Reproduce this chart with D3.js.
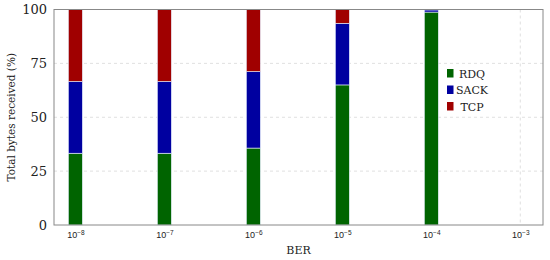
<!DOCTYPE html>
<html>
<head>
  <meta charset="UTF-8">
  <title>Total bytes received</title>
  <style>
    body { margin: 0; background: #fff; }
    svg { display: block; font-family: "DejaVu Serif", "Liberation Serif", serif; }
    .grid line { stroke: #d8d8d8; stroke-dasharray: 3,3; stroke-width: 0.8px; }
  </style>
</head>
<body>
  <script src="https://d3js.org/d3.v7.min.js"></script>
  <script>
    // BER exponents (10^e)
    const berExp = [-8, -7, -6, -5, -4, -3];
    const seriesNames = ["RDQ", "SACK", "TCP"];
    const rdq  = [33.3, 33.3, 35.7, 65.0, 98.8, 0];
    const sack = [33.3, 33.3, 35.5, 28.6, 1.0, 0];
    const tcp  = [33.4, 33.4, 28.8, 6.4, 0.2, 0];
    const yTicks = [0, 25, 50, 75, 100];
    const colors = ["#006400", "#0000a0", "#a00000"];

    const width = 550, height = 260;
    const margin = {top: 9.5, right: 7, bottom: 35, left: 54};
    const svg = d3.select("body").append("svg").attr("width", width).attr("height", height);

    const x = d3.scaleLinear().domain([-8.24, -2.745]).range([margin.left, width - margin.right]);
    const y = d3.scaleLinear().domain([0, 100]).range([height - margin.bottom, margin.top]);
    const barW = 14;

    // grid
    const grid = svg.append("g").attr("class", "grid");
    grid.selectAll("line.h").data(yTicks.filter(d => d > 0 && d < 100)).enter().append("line")
      .attr("x1", margin.left).attr("x2", width - margin.right)
      .attr("y1", d => y(d)).attr("y2", d => y(d));
    grid.selectAll("line.v").data(berExp).enter().append("line")
      .attr("x1", d => x(d)).attr("x2", d => x(d))
      .attr("y1", margin.top).attr("y2", height - margin.bottom);

    // stacked data
    const rows = berExp.map((e, i) => ({e, RDQ: rdq[i], SACK: sack[i], TCP: tcp[i]}));
    const stacked = d3.stack().keys(seriesNames)(rows);

    svg.append("g").selectAll("g").data(stacked).enter().append("g")
      .attr("fill", (d, i) => colors[i])
      .selectAll("rect").data(d => d.filter(p => p[1] - p[0] > 0)).enter().append("rect")
      .attr("x", d => x(d.data.e) - barW / 2)
      .attr("width", barW)
      .attr("y", d => y(d[1]))
      .attr("height", d => y(d[0]) - y(d[1]))
      .attr("stroke", "#e8f0ff").attr("stroke-width", 0.6);

    // frame
    svg.append("rect")
      .attr("x", margin.left).attr("y", margin.top)
      .attr("width", width - margin.right - margin.left)
      .attr("height", height - margin.bottom - margin.top)
      .attr("fill", "none").attr("stroke", "#888").attr("stroke-width", 1);

    // y axis
    const yAxis = d3.axisLeft(y).tickValues(yTicks).tickSize(0).tickPadding(7);
    svg.append("g").attr("transform", `translate(${margin.left},0)`).call(yAxis)
      .call(g => g.select(".domain").remove())
      .selectAll("text").attr("font-size", 13).attr("fill", "#222")
      .attr("font-family", "DejaVu Serif, serif");

    // x axis with 10^e labels
    const xAxis = d3.axisBottom(x).tickValues(berExp).tickSize(0).tickPadding(9).tickFormat("");
    const xg = svg.append("g").attr("transform", `translate(0,${height - margin.bottom})`).call(xAxis);
    xg.select(".domain").remove();
    xg.selectAll(".tick").append("text")
      .attr("y", 13).attr("fill", "#222").attr("text-anchor", "middle")
      .attr("font-size", 9)
      .each(function(d) {
        const t = d3.select(this);
        t.append("tspan").text("10");
        t.append("tspan").attr("dy", -3.5).attr("font-size", 6.5).text("\u2212" + Math.abs(d));
      });

    // axis titles
    svg.append("text").attr("x", (margin.left + width - margin.right) / 2).attr("y", 254)
      .attr("text-anchor", "middle").attr("font-size", 11).attr("fill", "#222").text("BER");
    svg.append("text")
      .attr("transform", `translate(15,${(margin.top + height - margin.bottom) / 2}) rotate(-90)`)
      .attr("text-anchor", "middle").attr("font-size", 10.5).attr("fill", "#222")
      .text("Total bytes received (%)");

    // legend
    const legend = svg.append("g").attr("transform", "translate(447,69)");
    seriesNames.forEach((name, i) => {
      legend.append("rect").attr("x", 0).attr("y", i * 16.5).attr("width", 6.5).attr("height", 8.5)
        .attr("fill", colors[i]);
      legend.append("text").attr("x", 25).attr("y", i * 16.5 + 8.5)
        .attr("text-anchor", "middle").attr("font-size", 11).attr("fill", "#222").text(name);
    });
  </script>
</body>
</html>
